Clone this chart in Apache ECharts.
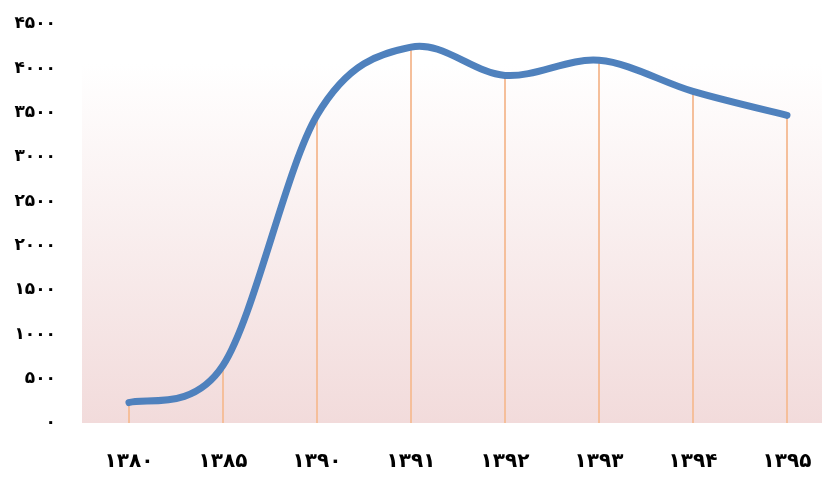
<!DOCTYPE html>
<html>
<head>
<meta charset="utf-8">
<script src="https://cdn.jsdelivr.net/npm/echarts@6/dist/echarts.min.js"></script>
<style>html,body{margin:0;padding:0;background:#fff}#c{width:822px;height:477px}</style>
</head>
<body>
<div id="c"></div>
<script>
const categories = ['۱۳۸۰','۱۳۸۵','۱۳۹۰','۱۳۹۱','۱۳۹۲','۱۳۹۳','۱۳۹۴','۱۳۹۵'];
const values = [230, 650, 3470, 4240, 3920, 4090, 3740, 3470];
const yTickLabels = ['۰','۵۰۰','۱۰۰۰','۱۵۰۰','۲۰۰۰','۲۵۰۰','۳۰۰۰','۳۵۰۰','۴۰۰۰','۴۵۰۰'];

function smoothPath(api) {
  const pts = values.map((v, i) => api.coord([i, v]));
  const n = pts.length;
  let d = 'M' + pts[0][0] + ' ' + pts[0][1];
  for (let i = 0; i < n - 1; i++) {
    const p0 = pts[Math.max(i - 1, 0)];
    const p1 = pts[i];
    const p2 = pts[i + 1];
    const p3 = pts[Math.min(i + 2, n - 1)];
    const t = 1 / 6;
    const c1x = p1[0] + (p2[0] - p0[0]) * t;
    const c1y = p1[1] + (p2[1] - p0[1]) * t;
    const c2x = p2[0] - (p3[0] - p1[0]) * t;
    const c2y = p2[1] - (p3[1] - p1[1]) * t;
    d += ' C' + c1x + ' ' + c1y + ' ' + c2x + ' ' + c2y + ' ' + p2[0] + ' ' + p2[1];
  }
  return d;
}

const chart = echarts.init(document.getElementById('c'));
chart.setOption({
  animation: false,
  grid: {
    left: 82, top: 24, width: 752, height: 399,
    outerBoundsMode: 'none',
    containLabel: false,
    show: true, borderWidth: 0,
    backgroundColor: {
      type: 'linear', x: 0, y: 0, x2: 0, y2: 1,
      colorStops: [
        {offset: 0, color: '#ffffff'},
        {offset: 0.1, color: '#ffffff'},
        {offset: 1, color: '#f2dbdb'}
      ]
    }
  },
  xAxis: {
    type: 'category',
    data: categories,
    boundaryGap: true,
    axisLine: {show: false},
    axisTick: {show: false},
    axisLabel: {
      margin: 29,
      fontFamily: 'DejaVu Sans',
      fontWeight: 'bold',
      fontSize: 20,
      color: '#000'
    }
  },
  yAxis: {
    type: 'value',
    min: 0, max: 4500, interval: 500,
    axisLine: {show: false},
    axisTick: {show: false},
    splitLine: {show: false},
    axisLabel: {
      margin: 26,
      fontFamily: 'DejaVu Sans',
      fontWeight: 'bold',
      fontSize: 17,
      color: '#000',
      formatter: v => yTickLabels[Math.round(v / 500)]
    }
  },
  series: [
    {
      type: 'bar',
      data: values,
      barWidth: 2,
      itemStyle: {color: '#f5bf9b'},
      z: 1
    },
    {
      type: 'custom',
      data: values,
      z: 2,
      renderItem: function (params, api) {
        if (params.dataIndex !== 0) return null;
        return {
          type: 'path',
          shape: {pathData: smoothPath(api)},
          style: {fill: 'none', stroke: '#4f81bd', lineWidth: 7, lineCap: 'round', lineJoin: 'round'}
        };
      }
    }
  ]
});
</script>
</body>
</html>
